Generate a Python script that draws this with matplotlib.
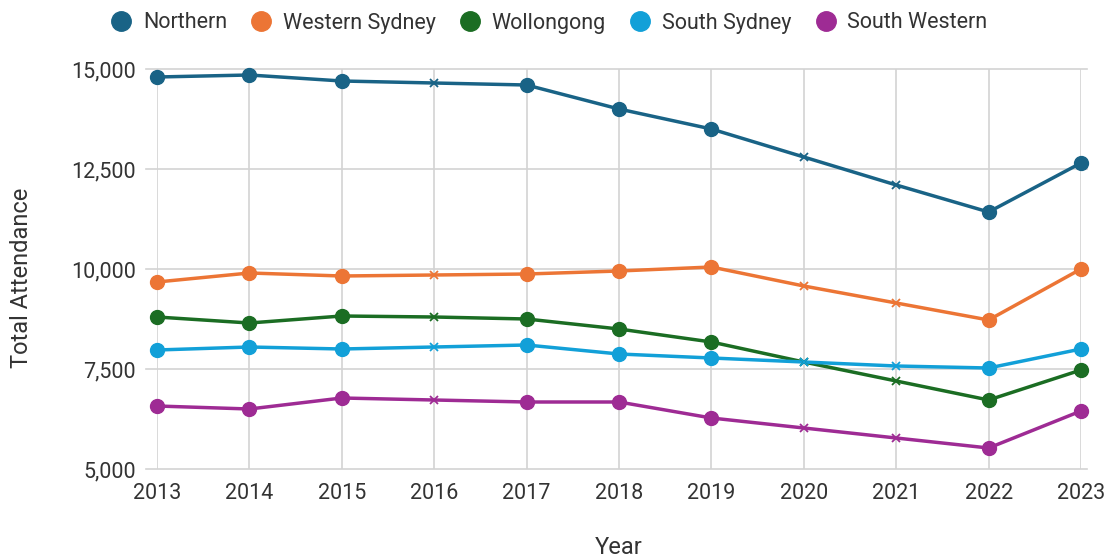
import numpy as np
import matplotlib.pyplot as plt
from matplotlib.lines import Line2D

plt.rcParams['font.family'] = ['Roboto', 'DejaVu Sans']

years = [2013, 2014, 2015, 2016, 2017, 2018, 2019, 2020, 2021, 2022, 2023]
# years drawn with a small cross instead of a dot
cross_years = [2016, 2020, 2021]

northern = [14800, 14850, 14700, 14650, 14600, 14000, 13500, 12800, 12100, 11425, 12650]
western_sydney = [9675, 9900, 9825, 9850, 9875, 9950, 10050, 9575, 9150, 8725, 10000]
wollongong = [8800, 8650, 8825, 8800, 8750, 8500, 8175, 7675, 7200, 6725, 7475]
south_sydney = [7975, 8050, 8000, 8050, 8100, 7875, 7775, 7675, 7575, 7525, 8000]
south_western = [6575, 6500, 6775, 6725, 6675, 6675, 6275, 6025, 5775, 5525, 6450]

names = ["Northern", "Western Sydney", "Wollongong", "South Sydney", "South Western"]
series = [northern, western_sydney, wollongong, south_sydney, south_western]
colors = ["#196386", "#ec7535", "#1b6d23", "#12a0d8", "#9e2b94"]

yticks = [5000, 7500, 10000, 12500, 15000]
ytick_labels = ["5,000", "7,500", "10,000", "12,500", "15,000"]

txt = "#333333"
fig = plt.figure(figsize=(11.04, 5.6), dpi=100)
ax = fig.add_axes([157 / 1104, 1 - 469 / 560, (1081 - 157) / 1104, 400 / 560])

x = np.array(years)
is_cross = np.isin(x, cross_years)
for name, vals, c in zip(names, series, colors):
    y = np.array(vals)
    ax.plot(x, y, color=c, lw=2.5, zorder=3, clip_on=False)
    ax.plot(x[~is_cross], y[~is_cross], 'o', color=c, ms=10, zorder=4, ls='none', clip_on=False)
    ax.plot(x[is_cross], y[is_cross], 'x', color=c, ms=6, mew=1.3, zorder=4, ls='none', clip_on=False)

ax.set_xlim(2013, 2023)
ax.set_ylim(5000, 15000)
ax.set_xticks(years)
ax.set_yticks(yticks)
ax.set_yticklabels(ytick_labels)
ax.grid(True, axis='x', color="#d3d3d3", lw=1.2)
for t in yticks:
    ax.axhline(t, xmin=-0.012, xmax=1.006, color="#d3d3d3", lw=1.2, zorder=1, clip_on=False)
ax.set_axisbelow(True)
for s in ax.spines.values():
    s.set_visible(False)
ax.tick_params(length=0, labelsize=15.5, colors=txt)
ax.tick_params(axis='y', pad=15)
ax.tick_params(axis='x', pad=10)

fig.text(22 / 1104, 1 - 278 / 560, "Total Attendance", rotation=90, ha='center', va='center',
         fontsize=17, color=txt)
fig.text(619 / 1104, 1 - 547 / 560, "Year", ha='center', va='center', fontsize=17, color=txt)

handles = [Line2D([], [], marker='o', color=c, ls='none', ms=14) for c in colors]
fig.legend(handles, names, loc='center', bbox_to_anchor=(549 / 1104, 1 - 23 / 560), ncol=5,
           frameon=False, fontsize=15.5, handlelength=1.0, handletextpad=0.5, columnspacing=1.1,
           labelcolor=txt)

fig.savefig("out.png", dpi=100)
